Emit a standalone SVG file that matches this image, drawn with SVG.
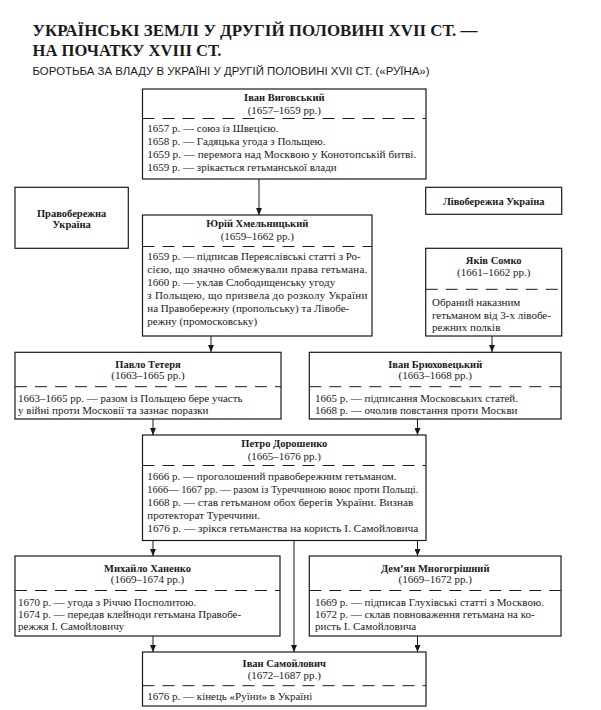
<svg xmlns="http://www.w3.org/2000/svg" width="601" height="710" viewBox="0 0 601 710">
<defs>
<marker id="ah" markerUnits="userSpaceOnUse" viewBox="0 0 7 6" markerWidth="7" markerHeight="6" refX="7" refY="3" orient="auto">
<path d="M0,0 L7,3 L0,6 z" fill="#1a1a1a"/>
</marker>
</defs>
<style>
.bx{fill:#fff;stroke:#1a1a1a;stroke-width:1.2}
.ds{stroke:#1a1a1a;stroke-width:1;stroke-dasharray:12 8}
.cn{stroke:#1a1a1a;stroke-width:1;fill:none}
.ar{marker-end:url(#ah)}
text{font-family:"Liberation Serif","DejaVu Serif",serif;fill:#1a1a1a}
.nm{font-size:10.5px;font-weight:bold;text-anchor:middle}
.dt{font-size:11px;text-anchor:middle}
.tx{font-size:11px}
.lb{font-size:10.5px;font-weight:bold;text-anchor:middle}
.t1{font-size:16.5px;font-weight:bold}
.st{font-family:"Liberation Sans","DejaVu Sans",sans-serif;font-size:10.5px}
</style>
<rect width="601" height="710" fill="#fff"/>
<g id="title">
<text class="t1" x="32.5" y="35.7" textLength="445" lengthAdjust="spacingAndGlyphs">УКРАЇНСЬКІ ЗЕМЛІ У ДРУГІЙ ПОЛОВИНІ XVII СТ. —</text>
<text class="t1" x="32.5" y="55.7" textLength="189" lengthAdjust="spacingAndGlyphs">НА ПОЧАТКУ XVIII СТ.</text>
<text class="st" x="32.5" y="75" textLength="397" lengthAdjust="spacingAndGlyphs">БОРОТЬБА ЗА ВЛАДУ В УКРАЇНІ У ДРУГІЙ ПОЛОВИНІ XVII СТ. («РУЇНА»)</text>
</g>
<g id="connectors">
<line class="cn ar" x1="259" y1="179" x2="259" y2="215"/>
<line class="cn ar" x1="211" y1="336" x2="211" y2="352"/>
<line class="cn ar" x1="492" y1="336" x2="492" y2="352"/>
<line class="cn ar" x1="153" y1="419" x2="153" y2="435"/>
<line class="cn ar" x1="417.5" y1="419" x2="417.5" y2="435"/>
<line class="cn ar" x1="153" y1="540.5" x2="153" y2="556"/>
<line class="cn ar" x1="417.5" y1="540.5" x2="417.5" y2="556"/>
<line class="cn ar" x1="294" y1="540.5" x2="294" y2="652"/>
<line class="cn ar" x1="153" y1="636" x2="153" y2="652"/>
<line class="cn ar" x1="417.5" y1="636" x2="417.5" y2="652"/>
</g>
<g id="vyhovsky">
<rect class="bx" x="142.5" y="89" width="283.5" height="90"/>
<line class="ds" x1="142.5" y1="118.5" x2="426" y2="118.5"/>
<text class="nm" x="284.3" y="101">Іван Виговський</text>
<text class="dt" x="284.3" y="114">(1657–1659 рр.)</text>
<text class="tx" x="147.3" y="132">1657 р. — союз із Швецією.</text>
<text class="tx" x="147.3" y="145">1658 р. — Гадяцька угода з Польщею.</text>
<text class="tx" x="147.3" y="158" textLength="269" lengthAdjust="spacingAndGlyphs">1659 р. — перемога над Москвою у Конотопській битві.</text>
<text class="tx" x="147.3" y="171">1659 р. — зрікається гетьманської влади</text>
</g>
<g id="pravoberezhna">
<rect class="bx" x="15" y="187.3" width="113.3" height="61"/>
<text class="lb" x="71.6" y="216.5">Правобережна</text>
<text class="lb" x="71.6" y="227.5">Україна</text>
</g>
<g id="livoberezhna">
<rect class="bx" x="425.7" y="187.3" width="136" height="27"/>
<text class="lb" x="493.7" y="204.5">Лівобережна Україна</text>
</g>
<g id="khmelnytsky">
<rect class="bx" x="142.5" y="215" width="229.5" height="121"/>
<line class="ds" x1="142.5" y1="246.5" x2="372" y2="246.5"/>
<text class="nm" x="257.3" y="227">Юрій Хмельницький</text>
<text class="dt" x="257.3" y="240">(1659–1662 рр.)</text>
<text class="tx" x="147.3" y="260">1659 р. — підписав Переяслівські статті з Ро-</text>
<text class="tx" x="147.3" y="273" textLength="220" lengthAdjust="spacing">сією, що значно обмежували права гетьмана.</text>
<text class="tx" x="147.3" y="286">1660 р. — уклав Слободищенську угоду</text>
<text class="tx" x="147.3" y="299" textLength="220" lengthAdjust="spacing">з Польщею, що призвела до розколу України</text>
<text class="tx" x="147.3" y="312">на Правобережну (пропольську) та Лівобе-</text>
<text class="tx" x="147.3" y="325">режну (промосковську)</text>
</g>
<g id="somko">
<rect class="bx" x="425.7" y="248.3" width="136" height="87.7"/>
<line class="ds" x1="425.7" y1="289.3" x2="561.7" y2="289.3"/>
<text class="nm" x="493.7" y="264">Яків Сомко</text>
<text class="dt" x="493.7" y="276">(1661–1662 рр.)</text>
<text class="tx" x="432" y="306">Обраний наказним</text>
<text class="tx" x="432" y="318.5">гетьманом від 3-х лівобе-</text>
<text class="tx" x="432" y="331">режних полків</text>
</g>
<g id="teteria">
<rect class="bx" x="15" y="352.3" width="266" height="66.7"/>
<line class="ds" x1="15" y1="386.7" x2="281" y2="386.7"/>
<text class="nm" x="148" y="367.5">Павло Тетеря</text>
<text class="dt" x="148" y="379">(1663–1665 рр.)</text>
<text class="tx" x="18" y="401.5">1663–1665 рр. — разом із Польщею бере участь</text>
<text class="tx" x="18" y="414">у війні проти Московії та зазнає поразки</text>
</g>
<g id="briukhovetsky">
<rect class="bx" x="309.3" y="352.3" width="251.7" height="66.7"/>
<line class="ds" x1="309.3" y1="386.7" x2="561" y2="386.7"/>
<text class="nm" x="435.2" y="367.5">Іван Брюховецький</text>
<text class="dt" x="435.2" y="379">(1663–1668 рр.)</text>
<text class="tx" x="315" y="401.5">1665 р. — підписання Московських статей.</text>
<text class="tx" x="315" y="414">1668 р. — очолив повстання проти Москви</text>
</g>
<g id="doroshenko">
<rect class="bx" x="142.5" y="435" width="283.5" height="105.5"/>
<line class="ds" x1="142.5" y1="465.5" x2="426" y2="465.5"/>
<text class="nm" x="284.3" y="447">Петро Дорошенко</text>
<text class="dt" x="284.3" y="460">(1665–1676 рр.)</text>
<text class="tx" x="147.3" y="479.5">1666 р. — проголошений правобережним гетьманом.</text>
<text class="tx" x="147.3" y="492.5" textLength="271" lengthAdjust="spacingAndGlyphs">1666— 1667 рр. — разом із Туреччиною воює проти Польщі.</text>
<text class="tx" x="147.3" y="505.5" textLength="266" lengthAdjust="spacingAndGlyphs">1668 р. — став гетьманом обох берегів України. Визнав</text>
<text class="tx" x="147.3" y="518.5">протекторат Туреччини.</text>
<text class="tx" x="147.3" y="531.5" textLength="271" lengthAdjust="spacingAndGlyphs">1676 р. — зрікся гетьманства на користь І. Самойловича</text>
</g>
<g id="khanenko">
<rect class="bx" x="15" y="556" width="265" height="80"/>
<line class="ds" x1="15" y1="590.5" x2="280" y2="590.5"/>
<text class="nm" x="147.5" y="571.5">Михайло Ханенко</text>
<text class="dt" x="147.5" y="583">(1669–1674 рр.)</text>
<text class="tx" x="18" y="605.5">1670 р. — угода з Річчю Посполитою.</text>
<text class="tx" x="18" y="617.5">1674 р. — передав клейноди гетьмана Правобе-</text>
<text class="tx" x="18" y="629.5">режжя І. Самойловичу</text>
</g>
<g id="mnohohrishny">
<rect class="bx" x="309.3" y="556" width="251.7" height="80"/>
<line class="ds" x1="309.3" y1="590.5" x2="561" y2="590.5"/>
<text class="nm" x="435.2" y="571.5">Дем’ян Многогрішний</text>
<text class="dt" x="435.2" y="583">(1669–1672 рр.)</text>
<text class="tx" x="315" y="605.5">1669 р. — підписав Глухівські статті з Москвою.</text>
<text class="tx" x="315" y="617.5">1672 р. — склав повноваження гетьмана на ко-</text>
<text class="tx" x="315" y="629.5">ристь І. Самойловича</text>
</g>
<g id="samoilovych">
<rect class="bx" x="142.5" y="652" width="283.5" height="54"/>
<line class="ds" x1="142.5" y1="685.7" x2="426" y2="685.7"/>
<text class="nm" x="284.3" y="666.5">Іван Самойлович</text>
<text class="dt" x="284.3" y="679">(1672–1687 рр.)</text>
<text class="tx" x="147.3" y="700">1676 р. — кінець «Руїни» в Україні</text>
</g>
</svg>
